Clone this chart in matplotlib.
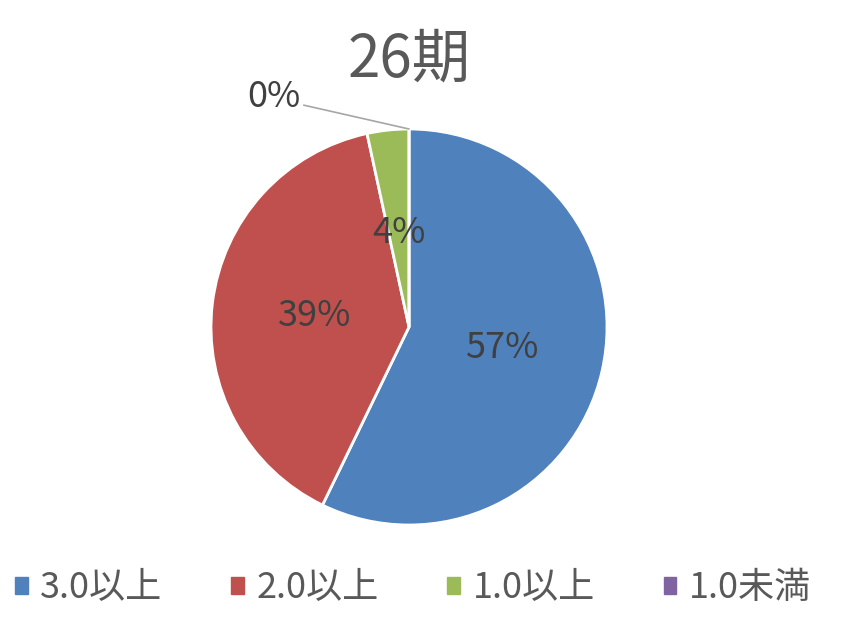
import matplotlib
matplotlib.use("Agg")
import matplotlib.pyplot as plt
from matplotlib.patches import Patch
import numpy as np

plt.rcParams['font.family'] = ['Noto Sans CJK JP', 'DejaVu Sans']

title = "26期"
categories = ["3.0以上", "2.0以上", "1.0以上", "1.0未満"]
values = [57.2, 39.4, 3.4, 0.0]
pct_labels = ["57%", "39%", "4%", "0%"]
colors = ["#4F81BD", "#C0504D", "#9BBB59", "#8064A2"]

W, H = 843, 632
fig = plt.figure(figsize=(W / 100, H / 100), dpi=100)
cx, cy, R = 409, 327, 198
ax = fig.add_axes([(cx - R) / W, (H - cy - R) / H, 2 * R / W, 2 * R / H])

wedges, _ = ax.pie(values, colors=colors, startangle=90, counterclock=False,
                   radius=1.0, wedgeprops=dict(edgecolor="white", linewidth=2))
ax.set_xlim(-1, 1)
ax.set_ylim(-1, 1)
ax.set_aspect("equal")
ax.axis("off")

total = sum(values)
start = 90.0
for v, lab in zip(values, pct_labels):
    span = 360.0 * v / total
    mid = np.deg2rad(start - span / 2)
    if v > 0:
        r = 0.48
        ax.text(r * np.cos(mid), r * np.sin(mid), lab, ha="center", va="center",
                fontsize=26, color="#404040")
    else:
        ax.annotate(lab, xy=(np.cos(mid), np.sin(mid)), xytext=(-0.68, 1.16),
                    ha="center", va="center", fontsize=26, color="#404040",
                    annotation_clip=False,
                    arrowprops=dict(arrowstyle="-", color="#A6A6A6", lw=1.2,
                                    shrinkA=0, shrinkB=0, relpos=(1.0, 0.3)))
    start -= span

fig.text(cx / W, 1 - 60 / H, title, ha="center", va="center", fontsize=42,
         color="#595959")

handles = [Patch(facecolor=c, edgecolor=c) for c in colors]
fig.legend(handles, categories, loc="center", bbox_to_anchor=(0.49, 1 - 588 / H),
           ncol=4, frameon=False, fontsize=26, handlelength=0.35, handleheight=0.35,
           handletextpad=0.35, columnspacing=1.9, labelcolor="#595959")

fig.savefig("out.png", dpi=100)
